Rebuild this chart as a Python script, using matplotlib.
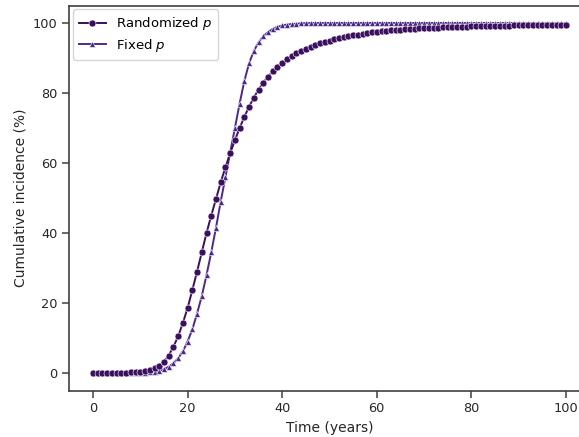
import numpy as np
import matplotlib
matplotlib.use("Agg")
import matplotlib.pyplot as plt

years = list(range(0, 101))

randomized_p = [
    0.0, 0.0, 0.0, 0.0, 0.05, 0.05, 0.1, 0.1, 0.15, 0.25,
    0.4, 0.6, 0.9, 1.4, 2.1, 3.2, 5.0, 7.5, 10.5, 14.3,
    18.6, 23.7, 29.0, 34.5, 40.0, 45.0, 49.7, 54.5, 58.8, 62.8,
    66.5, 70.0, 73.2, 76.1, 78.7, 81.0, 83.0, 84.7, 86.2, 87.5,
    88.6, 89.6, 90.5, 91.3, 92.0, 92.6, 93.2, 93.7, 94.2, 94.6,
    95.0, 95.4, 95.7, 96.0, 96.3, 96.5, 96.7, 96.9, 97.1, 97.3,
    97.45, 97.6, 97.75, 97.9, 98.0, 98.1, 98.2, 98.3, 98.4, 98.5,
    98.55, 98.6, 98.65, 98.7, 98.75, 98.8, 98.85, 98.9, 98.95, 99.0,
    99.05, 99.1, 99.12, 99.15, 99.18, 99.2, 99.23, 99.26, 99.28, 99.3,
    99.33, 99.35, 99.38, 99.4, 99.42, 99.44, 99.46, 99.48, 99.5, 99.52,
    99.55,
]

fixed_p = [
    0.0, 0.0, 0.0, 0.0, 0.0, 0.0, 0.0, 0.0, 0.0, 0.0,
    0.0, 0.1, 0.2, 0.4, 0.7, 1.1, 1.8, 2.8, 4.2, 6.2,
    9.0, 12.5, 17.0, 22.0, 28.0, 34.5, 41.5, 49.0, 56.0, 63.0,
    70.0, 77.0, 83.5, 88.5, 92.0, 94.5, 96.2, 97.4, 98.3, 98.9,
    99.3, 99.55, 99.7, 99.8, 99.9, 99.95, 100.0, 100.0, 100.0, 100.0,
    100.0, 100.0, 100.0, 100.0, 100.0, 100.0, 100.0, 100.0, 100.0, 100.0,
    100.0, 100.0, 100.0, 100.0, 100.0, 100.0, 100.0, 100.0, 100.0, 100.0,
    100.0, 100.0, 100.0, 100.0, 100.0, 100.0, 100.0, 100.0, 100.0, 100.0,
    100.0, 100.0, 100.0, 100.0, 100.0, 100.0, 100.0, 100.0, 100.0, 100.0,
    100.0, 100.0, 100.0, 100.0, 100.0, 100.0, 100.0, 100.0, 100.0, 100.0,
    100.0,
]

x_ticks = [0, 20, 40, 60, 80, 100]
y_ticks = [0, 20, 40, 60, 80, 100]

plt.rcParams["font.family"] = ["DejaVu Sans"]

fig = plt.figure(figsize=(5.79, 4.37), dpi=100)
ax = fig.add_axes([0.1198, 0.1064, 0.8986, 0.881])

ax.plot(years, randomized_p, color="#3b0f5e", lw=1.4, marker="o", ms=5.0,
        mec="white", mew=0.4, label="Randomized $p$", zorder=3)
ax.plot(years, fixed_p, color="#4a2a88", lw=1.4, marker="^", ms=4.2,
        mec="white", mew=0.4, label="Fixed $p$", zorder=2)

ax.set_xlim(-5, 105)
ax.set_ylim(-5, 105)
ax.set_xticks(x_ticks)
ax.set_yticks(y_ticks)
ax.set_xlabel("Time (years)", fontsize=10, color="0.15")
ax.set_ylabel("Cumulative incidence (%)", fontsize=10, color="0.15")

for s in ax.spines.values():
    s.set_color("0.25")
    s.set_linewidth(1.2)
ax.tick_params(direction="out", length=5, width=1.1, color="0.25",
               labelcolor="0.15", labelsize=9.3)

ax.legend(loc="upper left", frameon=True, fancybox=True, edgecolor="0.8",
          fontsize=9.5, handlelength=2.0, borderpad=0.45, labelspacing=0.35,
          borderaxespad=0.3)

fig.savefig("out.png", dpi=100)
